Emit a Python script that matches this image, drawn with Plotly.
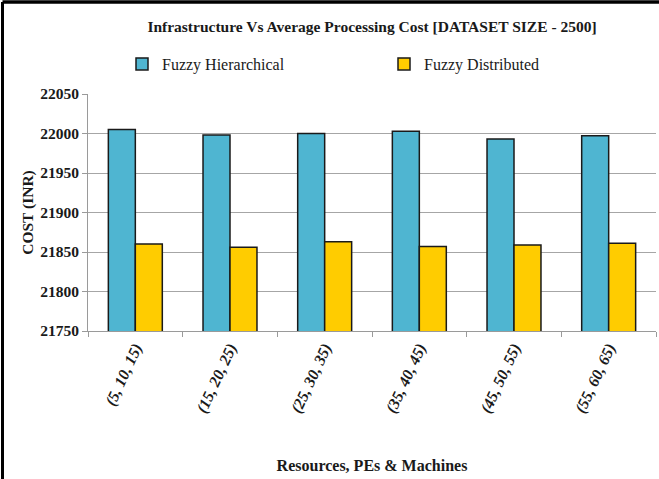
import plotly.graph_objects as go

categories = ["(5, 10, 15)", "(15, 20, 25)", "(25, 30, 35)",
              "(35, 40, 45)", "(45, 50, 55)", "(55, 60, 65)"]
fuzzy_hierarchical = [22005, 21998, 22000, 22003, 21993, 21997]
fuzzy_distributed = [21860, 21856, 21863, 21857, 21859, 21861]
y_ticks = [21750, 21800, 21850, 21900, 21950, 22000, 22050]

W, H = 659, 479
M_L, M_R, M_T, M_B = 88, 3, 94, 148
PW, PH = W - M_L - M_R, H - M_T - M_B


def px_x(px):
    return (px - M_L) / PW


def px_y(py):
    return (H - M_B - py) / PH


SERIF = "Liberation Serif"

fig = go.Figure()
fig.add_trace(go.Bar(
    x=categories, y=fuzzy_hierarchical, name="Fuzzy Hierarchical",
    marker=dict(color="#4FB5D1", line=dict(color="#1a1a1a", width=1.5)),
))
fig.add_trace(go.Bar(
    x=categories, y=fuzzy_distributed, name="Fuzzy Distributed",
    marker=dict(color="#FFCC00", line=dict(color="#1a1a1a", width=1.5)),
))

# black frame along top and left edges
fig.add_shape(type="line", xref="paper", yref="paper",
              x0=px_x(2.5), x1=px_x(659), y0=px_y(2), y1=px_y(2),
              line=dict(color="black", width=3.5))
fig.add_shape(type="line", xref="paper", yref="paper",
              x0=px_x(2.5), x1=px_x(2.5), y0=px_y(2), y1=px_y(479),
              line=dict(color="black", width=3))

fig.update_layout(
    width=W, height=H,
    margin=dict(l=M_L, r=M_R, t=M_T, b=M_B),
    paper_bgcolor="white", plot_bgcolor="white",
    barmode="group", bargap=0.43, bargroupgap=0,
    title=dict(text="<b>Infrastructure Vs Average Processing Cost [DATASET SIZE - 2500]</b>",
               x=0.5, xref="paper", y=1 - 27 / H, yanchor="middle",
               font=dict(family=SERIF, size=15.5, color="#1a1a1a")),
    legend=dict(orientation="h", xref="container", yref="container",
                x=122 / W, y=1 - 64 / H, xanchor="left", yanchor="middle",
                entrywidth=217, entrywidthmode="pixels",
                font=dict(family=SERIF, size=16, color="#1a1a1a"),
                bgcolor="rgba(0,0,0,0)"),
    xaxis=dict(
        title=dict(text="<b>Resources, PEs &amp; Machines</b>",
                   font=dict(family=SERIF, size=16, color="#1a1a1a"), standoff=44),
        tickangle=-65,
        tickfont=dict(family=SERIF, size=16, color="#1a1a1a", weight="bold", style="italic"),
        showline=True, linecolor="#9a9a9a", linewidth=1,
        ticks="outside", tickcolor="#9a9a9a", ticklen=5,
        tickson="boundaries", showgrid=False,
    ),
    yaxis=dict(
        title=dict(text="<b>COST (INR)</b>",
                   font=dict(family=SERIF, size=15.5, color="#1a1a1a"), standoff=2),
        range=[21750, 22050], tickvals=y_ticks, tickformat="d",
        tickfont=dict(family=SERIF, size=15.5, color="#1a1a1a", weight="bold"),
        showline=True, linecolor="#9a9a9a", linewidth=1,
        ticks="outside", tickcolor="#9a9a9a", ticklen=5,
        gridcolor="#a6a6a6", gridwidth=1, zeroline=False,
    ),
)

fig.write_html("out.html")
